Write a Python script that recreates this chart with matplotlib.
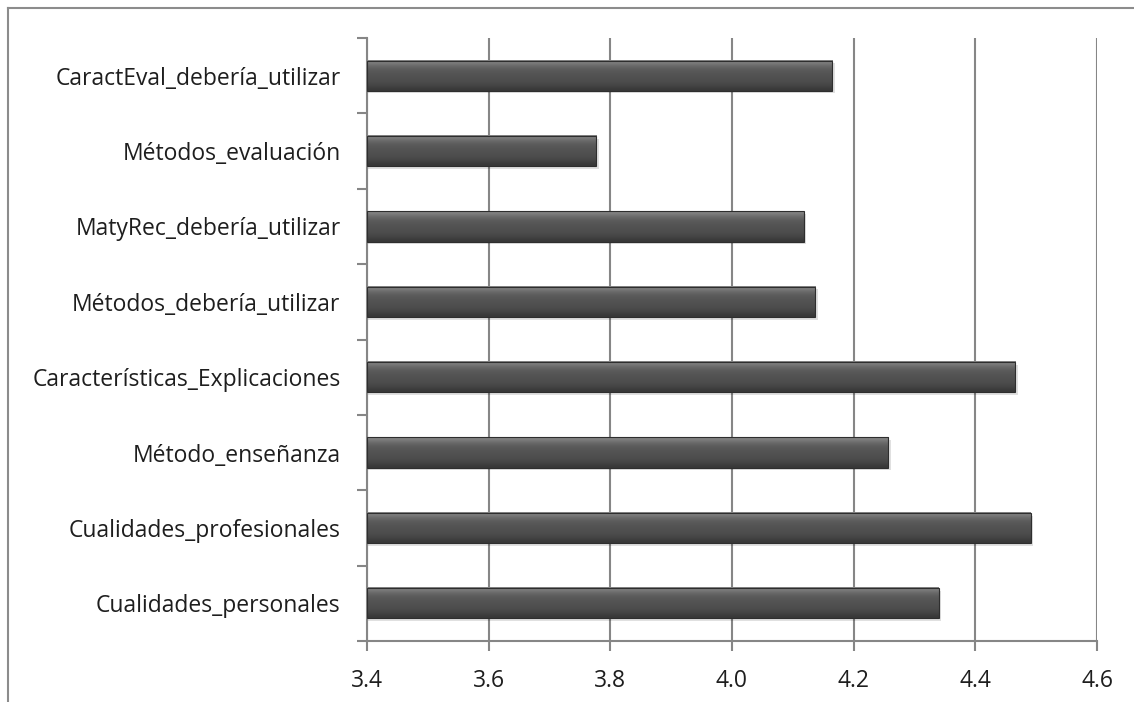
import matplotlib.pyplot as plt
import numpy as np
from matplotlib.lines import Line2D

categorias = ['Cualidades_personales', 'Cualidades_profesionales', 'Método_enseñanza',
              'Características_Explicaciones', 'Métodos_debería_utilizar',
              'MatyRec_debería_utilizar', 'Métodos_evaluación', 'CaractEval_debería_utilizar']
valores = [4.340, 4.491, 4.257, 4.466, 4.137, 4.118, 3.777, 4.165]
xticks = [3.4, 3.6, 3.8, 4.0, 4.2, 4.4, 4.6]

plt.rcParams['font.family'] = ['Open Sans', 'DejaVu Sans']
gris = '#868686'

fig = plt.figure(figsize=(11.34, 7.02), dpi=100)
ax = fig.add_axes([367/1134, 1 - 641/702, 730/1134, 603/702])

pos = np.arange(len(categorias))
alto = 0.4
xmin = xticks[0]

# degradado vertical de la barra (claro arriba, oscuro abajo)
grad = np.array([0.52, 0.46, 0.40, 0.36, 0.34, 0.33, 0.32, 0.31, 0.30, 0.28, 0.25, 0.22])[:, None]

for y, v in zip(pos, valores):
    # sombra
    ax.barh(y - 0.035, v - xmin + 0.004, height=alto, left=xmin, color='#000000',
            alpha=0.12, linewidth=0, zorder=2)
    ax.imshow(np.repeat(grad, 2, axis=1), cmap='gray', vmin=0, vmax=1, aspect='auto',
              extent=(xmin, v, y - alto/2, y + alto/2), origin='upper', zorder=3,
              interpolation='bicubic')
    ax.barh(y, v - xmin, height=alto, left=xmin, facecolor='none', edgecolor='#2e2e2e',
            linewidth=0.8, zorder=4)

ax.set_xlim(xticks[0], xticks[-1])
ax.set_ylim(-0.5, len(categorias) - 0.5)
ax.set_xticks(xticks)
ax.set_xticklabels([f'{t:.1f}' for t in xticks], fontsize=16.5, color='#1e1e1e')
ax.set_yticks(pos)
ax.set_yticklabels(categorias, fontsize=16.5, color='#1e1e1e')
ax.set_yticks(np.arange(-0.5, len(categorias), 1.0), minor=True)

ax.tick_params(axis='y', which='major', length=0, pad=19)
ax.tick_params(axis='y', which='minor', length=7, width=1.5, color=gris, direction='out')
ax.tick_params(axis='x', length=7, width=1.5, color=gris, direction='out', pad=13)

ax.grid(axis='x', color=gris, linewidth=1.5, zorder=1)
ax.set_axisbelow(True)
for s in ['top', 'right']:
    ax.spines[s].set_visible(False)
for s in ['left', 'bottom']:
    ax.spines[s].set_color(gris)
    ax.spines[s].set_linewidth(1.5)

# marco exterior del gráfico
fig.add_artist(Line2D([8/1134, 1], [1 - 8/702, 1 - 8/702], transform=fig.transFigure,
                      color='#8c8c8c', linewidth=1.5))
fig.add_artist(Line2D([8/1134, 8/1134], [0, 1 - 8/702], transform=fig.transFigure,
                      color='#8c8c8c', linewidth=1.5))

fig.savefig('out.png', dpi=100)
